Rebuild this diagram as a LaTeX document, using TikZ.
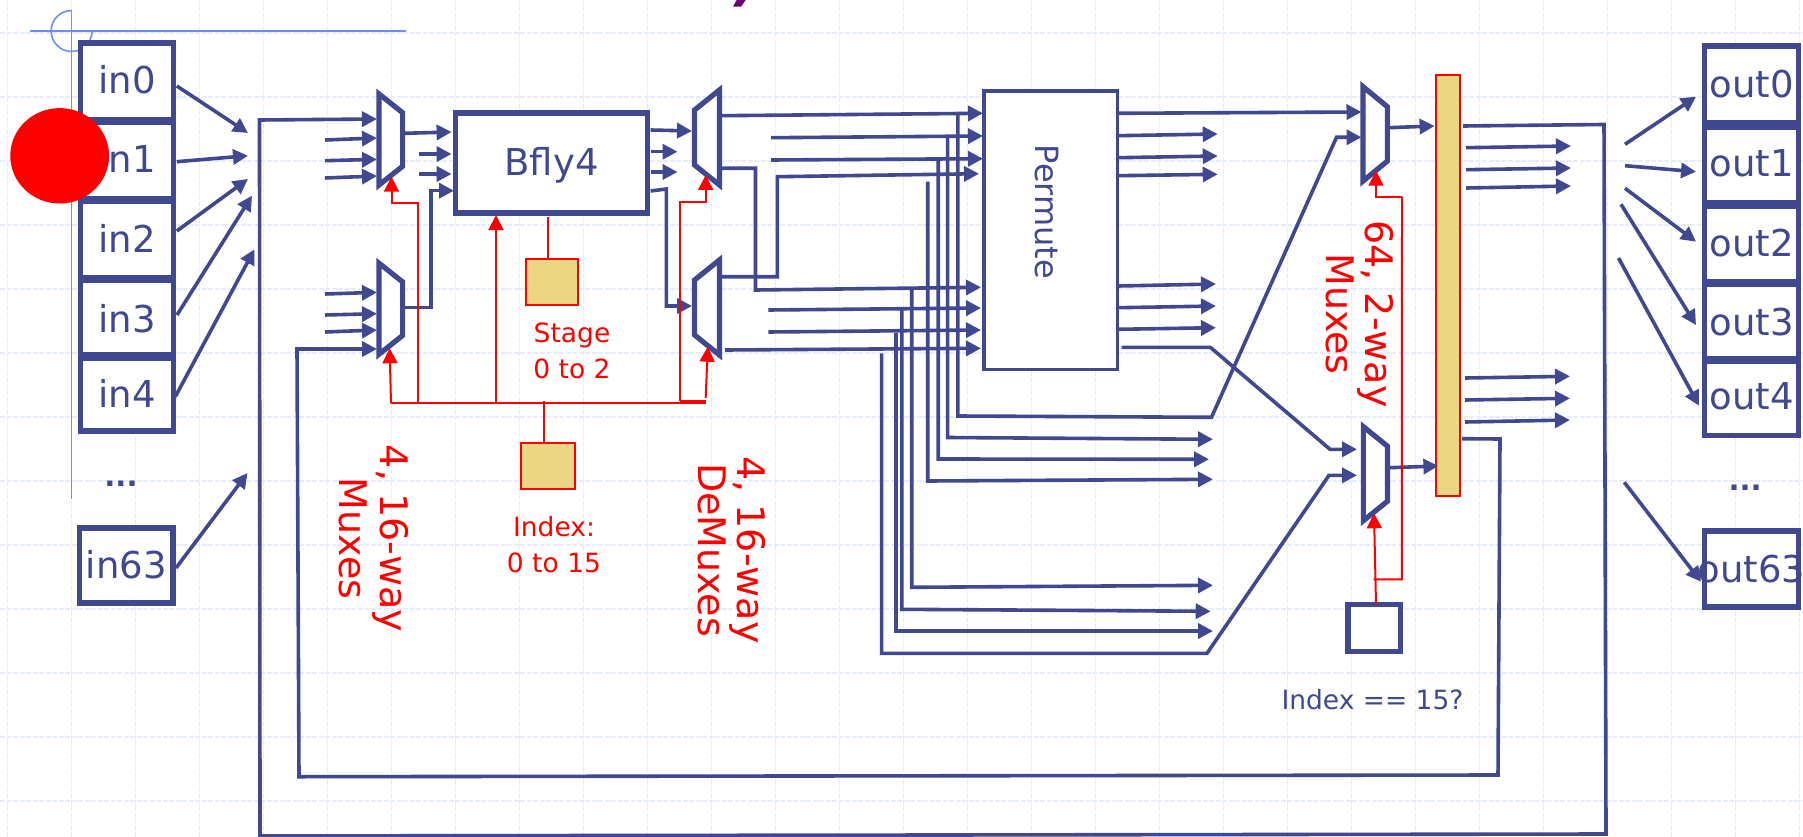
\documentclass[tikz,border=0pt]{standalone}
\usepackage{fontspec}
\setmainfont{DejaVu Sans}
\usetikzlibrary{arrows.meta,calc}
\definecolor{navy}{HTML}{404890}
\definecolor{tan}{HTML}{EBD684}
\definecolor{gridblue}{HTML}{E6ECFC}
\definecolor{guide}{HTML}{6E90F0}
\definecolor{plum}{HTML}{6B0070}
\newcommand{\fsz}[2]{\fontsize{#1}{#2}\selectfont}
\newcommand{\muxr}[6]{%
  \node[muxbox,minimum width=#4,minimum height=#5] (#1) at (#2,#3) {};
  \draw[muxline] (#1.north west) -- ([yshift=-#6]#1.north east) -- ([yshift=#6]#1.south east) -- (#1.south west) -- cycle;}
\newcommand{\muxl}[6]{%
  \node[muxbox,minimum width=#4,minimum height=#5] (#1) at (#2,#3) {};
  \draw[muxline] (#1.north east) -- ([yshift=-#6]#1.north west) -- ([yshift=#6]#1.south west) -- (#1.south east) -- cycle;}
\tikzset{
  x=1pt,y=-1pt,
  wire/.style={draw=navy,line width=3.6pt,line join=miter},
  wirea/.style={wire,-{Triangle[length=15pt,width=15pt]}},
  ctl/.style={draw=red,line width=2pt},
  ctla/.style={ctl,-{Triangle[length=15pt,width=15pt]}},
  regbox/.style={draw=navy,fill=white,line width=5.6pt,inner sep=0pt,outer sep=0pt,text=navy,font=\fsz{37}{40}},
  inbox/.style={regbox,minimum width=93.3pt},
  outbox/.style={regbox,minimum width=94pt},
  muxbox/.style={inner sep=0pt,outer sep=0pt},
  muxline/.style={draw=navy,fill=white,line width=5.2pt,miter limit=10},
  tanbox/.style={draw=red,fill=tan,line width=2pt,inner sep=0pt,outer sep=0pt},
  redsmall/.style={text=red,font=\fsz{26.5}{36},align=center,inner sep=0pt},
  redrot/.style={text=red,rotate=-90,align=center,inner sep=0pt},
  dots/.style={text=navy,font=\fsz{29}{32}\bfseries,inner sep=0pt,anchor=base},
}
\begin{document}
\begin{tikzpicture}
\useasboundingbox (0,0) rectangle (1803,837);
\fill[white] (0,0) rectangle (1803,837);
% background grid
\foreach \k in {0,...,28} {\draw[gridblue,line width=1.2pt,dash pattern=on 5pt off 1.5pt] ({7.6+64*\k},0) -- ({7.6+64*\k},837);}
\foreach \k in {0,...,12} {\draw[gridblue,line width=1.2pt,dash pattern=on 5pt off 1.5pt] (0,{33+64*\k}) -- (1803,{33+64*\k});}
% guides and title fragment
\draw[guide,line width=1.6pt] (30,31.3) -- (405.7,31.3);
\draw[guide,line width=1.6pt] (71.6,10.5) -- (71.6,499);
\draw[guide,line width=1.6pt] (71.6,10.5) arc[start angle=-90,end angle=-360,radius=20.5];
\fill[plum] (736.7,0) -- (745.7,0) -- (741,6.7) -- (733,6.7) -- cycle;
% register boxes
\node[inbox,minimum height=76.7pt,text height=23pt,text depth=0pt] (in0) at (127,81.6) {in0};
\node[inbox,minimum height=77pt,text height=25pt,text depth=0pt] (in1) at (127,160.5) {in1};
\node[inbox,minimum height=77pt,text height=25pt,text depth=0pt] (in2) at (127,239.5) {in2};
\node[inbox,minimum height=75pt,text height=29pt,text depth=0pt] (in3) at (127,317.5) {in3};
\node[inbox,minimum height=73pt,text height=25pt,text depth=0pt] (in4) at (127,394.5) {in4};
\node[inbox,minimum height=75pt,text height=25pt,text depth=0pt] (in63) at (126.3,565.5) {in63};
\node[dots] (indots) at (121,486) {...};
\node[outbox,minimum height=77pt,text height=27pt,text depth=0pt] (out0) at (1751.5,84.5) {out0};
\node[outbox,minimum height=75.5pt,text height=24.5pt,text depth=0pt] (out1) at (1751.5,164.75) {out1};
\node[outbox,minimum height=76pt,text height=25.4pt,text depth=0pt] (out2) at (1751.5,244) {out2};
\node[outbox,minimum height=74.5pt,text height=29pt,text depth=0pt] (out3) at (1751.5,321.25) {out3};
\node[outbox,minimum height=74pt,text height=21pt,text depth=0pt] (out4) at (1751.5,398.5) {out4};
\node[outbox,minimum height=76pt,text height=27.4pt,text depth=0pt] (out63) at (1751.5,569) {\makebox[0pt]{out63}};
\node[dots] (outdots) at (1745,490) {...};
% other blocks
\node[draw=navy,fill=white,line width=5.6pt,inner sep=0pt,outer sep=0pt,minimum width=192.3pt,minimum height=100pt,text=navy,font=\fsz{37}{40},text height=25pt,text depth=0pt] (bfly) at (551.5,163) {Bfly4};
\node[draw=navy,fill=white,line width=3.6pt,inner sep=0pt,outer sep=0pt,minimum width=133.1pt,minimum height=278.3pt] (perm) at (1050.8,230.2) {};
\node[text=navy,rotate=-90,font=\fsz{32}{36},inner sep=0pt] (permtext) at (1047,212) {Permute};
\node[tanbox,minimum width=52.1pt,minimum height=46pt] (stage) at (551.8,282) {};
\node[tanbox,minimum width=53.1pt,minimum height=46pt] (index) at (548,466.3) {};
\node[tanbox,minimum width=24.2pt,minimum height=420.7pt] (bar) at (1447.9,285.3) {};
\node[draw=navy,fill=white,line width=5.2pt,inner sep=0pt,outer sep=0pt,minimum width=52.4pt,minimum height=47.4pt] (eq) at (1374.2,628) {};
% multiplexers
\muxr{ma}{390.8}{139.5}{23.6}{91}{18.7}
\muxr{mb}{390.8}{308.7}{23.6}{91}{18.7}
\muxl{da}{707}{137.5}{24.9}{95}{20}
\muxl{db}{707}{307.5}{24.9}{95}{20}
\muxr{ta}{1375.2}{133.9}{24.3}{94.3}{20}
\muxr{tb}{1375.4}{473.7}{24.1}{94}{19.5}
% named connector ends
\foreach \n/\x/\y in {
  i0/176.8/86,t0/248/133,i1/176.8/161.7,t1/248/155.7,i2/176.8/231,t2/248/179,
  i3/177/315,t3/252/195.7,i4/175.3/396.7,t4/254.5/249.3,i63/176/568,t63/247.5/473,
  fa0/1463/126,fa1/1604/124.5,fa2/1606/834,fa3/260/836,fa4/259.5/120,fa5/377/119,
  fb0/1462/438.7,fb1/1500/439,fb2/1498/775,fb3/299/776.7,fb4/297/349,fb5/377/349,
  a1/325/140,a2/377/138,a3/325/160.7,a4/377/159.3,a5/325/178,a6/377/176,
  b1/325/294,b2/377/292.3,b3/325/315,b4/377/313.7,b5/325/332,b6/377/330,
  c1/405/133.3,c2/451.6/132,c3/419/154,c4/451.6/154,c5/419/174,c6/451.6/174,
  c7/405/307.3,c8/431/307.3,c9/431/190.7,c10/454/190.7,
  d1/650.6/130,d2/692/131,d3/650.6/151.7,d4/677.5/151.7,d5/650.6/172,d6/677.5/172,
  d7/650.6/191,d8/666.3/189,d9/666.3/306,d10/692/306,
  e1/721/115.7,e2/983/113.3,e3/771/137.7,e4/983/136,e5/771/160,e6/983/158.7,
  e7/721/168.3,e8/755.5/168.3,e9/755.5/290,e10/981/287.3,
  e11/721/276.7,e12/777.4/276.7,e13/777.4/176.7,e14/979/173.7,
  e15/768.3/310,e16/981/308,e17/768.3/332,e18/981/330,e19/725/350,e20/981/348.3,
  v1a/957.8/114,v1b/957.8/416,v1c/1211.5/417.3,v1d/1336.5/137.3,v1e/1361.5/137.3,
  v2a/947.6/136,v2b/947.6/437.5,v2c/1213/439.3,
  v3a/938.2/159,v3b/938.2/459,v3c/1209/459.3,
  v4a/927.7/181.7,v4b/927.7/481,v4c/1213/479.3,
  v5a/911.7/290,v5b/911.7/587.3,v5c/1213/585.3,
  v6a/901.9/310,v6b/901.9/609.3,v6c/1210.7/611.3,
  v7a/896.2/333,v7b/896.2/631,v7c/1213/631,
  v8a/881.6/353.3,v8b/881.6/653.3,v8c/1207/653.3,v8d/1329/475.3,v8e/1357/475.3,
  p1/1118/113.3,p2/1361.5/112,p3/1118/135.7,p4/1217.7/134,p5/1118/157.7,p6/1217.7/156,
  p7/1118/175.7,p8/1217.7/174.3,p9/1118/286,p10/1216/284,p11/1118/307.7,p12/1216/306,
  p13/1118/329.3,p14/1216/327.7,p15/1121.6/347.3,p16/1210.3/347.3,p17/1330/449.3,p18/1357/449.3,
  r1/1388.5/127.7,r2/1434.6/126,r3/1389/467.7,r4/1438.4/466,
  s1/1466/147.7,s2/1571/146,s3/1466/169.7,s4/1571/168,s5/1466/188,s6/1571/186,
  s7/1465/378,s8/1570/376.3,s9/1465/400,s10/1570/398.3,s11/1465/422,s12/1570/420,
  u0/1625/144.3,w0/1696/96.7,u1/1625/165.7,w1/1696/171.7,u2/1625/188.3,w2/1696/241.7,
  u3/1621/204.3,w3/1696/325,u4/1618.5/258,w4/1699/405.7,u63/1624.3/482.3,w63/1701/581.7,
  k1/391/403.3,k2/389.6/348.3,k3/417.5/403.3,k4/417.5/202.7,k5/391.5/202.7,k6/391.5/176.7,
  k7/496/403.3,k8/496/215,k9/547.6/216.7,k10/543.9/401,k11/543.9/443.3,k12/705.7/403.3,
  k13/680/401,k14/680/201.7,k15/705.7/201.7,k16/705.7/175,k17/705.7/401,k18/705.7/398,k19/707.8/346.7,
  n1/1376/196.7,n2/1376/170.7,n3/1402/196.7,n4/1401.8/579.3,n5/1373.7/579.3,n6/1376/604.3,n7/1374/513.3%
} {\coordinate (\n) at (\x,\y);}
% straight arrows
\foreach \a/\b in {i0/t0,i1/t1,i2/t2,i3/t3,i4/t4,i63/t63,
  a1/a2,a3/a4,a5/a6,b1/b2,b3/b4,b5/b6,c1/c2,c3/c4,c5/c6,d1/d2,d3/d4,d5/d6,
  e1/e2,e3/e4,e5/e6,e15/e16,e17/e18,e19/e20,
  p1/p2,p3/p4,p5/p6,p7/p8,p9/p10,p11/p12,p13/p14,
  r1/r2,r3/r4,s1/s2,s3/s4,s5/s6,s7/s8,s9/s10,s11/s12,
  u0/w0,u1/w1,u2/w2,u3/w3,u4/w4,u63/w63} {\draw[wirea] (\a) -- (\b);}
% routed arrows
\draw[wirea] (fa0) -- (fa1) -- (fa2) -- (fa3) -- (fa4) -- (fa5);
\draw[wirea] (fb0) -- (fb1) -- (fb2) -- (fb3) -- (fb4) -- (fb5);
\draw[wirea] (c7) -- (c8) -- (c9) -- (c10);
\draw[wirea] (d7) -- (d8) -- (d9) -- (d10);
\draw[wirea] (e7) -- (e8) -- (e9) -- (e10);
\draw[wirea] (e11) -- (e12) -- (e13) -- (e14);
\draw[wirea] (v1a) -- (v1b) -- (v1c) -- (v1d) -- (v1e);
\draw[wirea] (v2a) -- (v2b) -- (v2c);
\draw[wirea] (v3a) -- (v3b) -- (v3c);
\draw[wirea] (v4a) -- (v4b) -- (v4c);
\draw[wirea] (v5a) -- (v5b) -- (v5c);
\draw[wirea] (v6a) -- (v6b) -- (v6c);
\draw[wirea] (v7a) -- (v7b) -- (v7c);
\draw[wirea] (v8a) -- (v8b) -- (v8c) -- (v8d) -- (v8e);
\draw[wirea] (p15) -- (p16) -- (p17) -- (p18);
% control lines
\draw[ctl] (k1) -- (k12);
\draw[ctla] (k1) -- (k2);
\draw[ctla] (k3) -- (k4) -- (k5) -- (k6);
\draw[ctla] (k7) -- (k8);
\draw[ctl] (k9) -- (k9 |- stage.north);
\draw[ctl] (k10) -- (k11);
\draw[ctl] (k13) -- (k17);
\draw[ctla] (k13) -- (k14) -- (k15) -- (k16);
\draw[ctla] (k18) -- (k19);
\draw[ctla] (n3) -- (n1) -- (n2);
\draw[ctl] (n3) -- (n4) -- (n5);
\draw[ctla] (n6) -- (n7);
% labels
\node[redsmall] (stagetext) at (572,351) {Stage\\0 to 2};
\node[redsmall] (indextext) at (554,544.8) {Index:\\0 to 15};
\node[text=navy,font=\fsz{26.5}{30},inner sep=0pt,anchor=base] (eqtext) at (1372.5,709) {Index == 15?};
\node[redrot,font=\fsz{38}{41}] (lmux) at (373.5,538.5) {4, 16-way\\Muxes};
\node[redrot,font=\fsz{38}{39}] (ldemux) at (731.5,550) {4, 16-way\\DeMuxes};
\node[redrot,font=\fsz{38}{39}] (ltwo) at (1359.5,314) {64, 2-way\\Muxes};
% red dot
\fill[red] (59.7,155.8) ellipse[x radius=49.4,y radius=47.7];
\end{tikzpicture}
\end{document}
